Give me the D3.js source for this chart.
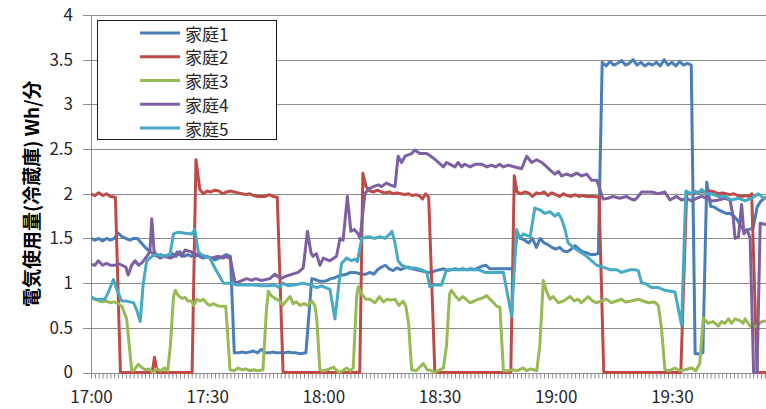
<!DOCTYPE html>
<html lang="ja">
<head>
<meta charset="utf-8">
<script src="https://cdn.jsdelivr.net/npm/d3@7"></script>
<style>
  html, body { margin: 0; padding: 0; background: #fff; }
  svg { display: block; }
  text { font-family: "Noto Sans CJK JP", "Noto Sans", sans-serif; }
</style>
</head>
<body>
<svg id="chart" width="766" height="409"></svg>
<script>
// Fridge electricity use per household, minutes after 17:00 -> Wh/min
const seriesNames = ["家庭1", "家庭2", "家庭3", "家庭4", "家庭5"];
const seriesColors = ["#4a7ebb", "#be4b48", "#98b954", "#7d60a0", "#46aac5"];

const home1 = [
  [0,1.50],[1,1.48],[2,1.50],[3,1.47],[4,1.50],[5,1.48],[6,1.50],[7,1.56],[8,1.52],[9,1.50],
  [10,1.48],[11,1.50],[12,1.50],[13,1.45],[14,1.40],[15,1.36],[16,1.33],[17,1.30],[18,1.32],
  [19,1.30],[20,1.30],[21,1.33],[22,1.30],[23,1.35],[24,1.30],[25,1.32],[26,1.30],[27,1.33],
  [28,1.30],[29,1.28],[30,1.30],[31,1.28],[32,1.26],[33,1.28],[34,1.30],[35,1.32],[36,1.30],
  [37,0.22],[38,0.22],[39,0.23],[40,0.22],[41,0.23],[42,0.24],[43,0.22],[44,0.26],[45,0.22],
  [46,0.22],[47,0.23],[48,0.22],[49,0.22],[50,0.22],[51,0.23],[52,0.22],[53,0.22],[54,0.21],
  [55.5,0.22],[57,1.05],[58,1.04],[59,1.02],[60,1.02],[61,1.03],[62,1.05],[63,1.06],[64,1.08],
  [65,1.09],[66,1.10],[67,1.12],[68,1.12],[69,1.11],[70,1.10],[71,1.10],[72,1.12],[73,1.10],
  [74,1.15],[75,1.18],[76,1.20],[77,1.16],[78,1.14],[79,1.17],[80,1.15],[81,1.17],[82,1.18],
  [83,1.16],[84,1.15],[85,1.14],[86,1.13],[87,1.12],[88,1.12],[89,1.14],[90,1.15],[91,1.16],
  [92,1.14],[93,1.15],[94,1.16],[95,1.15],[96,1.16],[97,1.15],[98,1.16],[99,1.15],[100,1.17],
  [101,1.19],[102,1.20],[103,1.16],[104,1.16],[106,1.16],[108,1.16],[109,1.16],[110,1.55],
  [111,1.50],[112,1.48],[113,1.45],[114,1.50],[115,1.40],[116,1.50],[117,1.45],[118,1.43],
  [119,1.40],[120,1.38],[121,1.40],[122,1.36],[123,1.35],[124,1.38],[125,1.42],[126,1.38],
  [127,1.35],[128,1.34],[129,1.32],[130,1.32],[131,1.33],
  [132,3.47],[133,3.43],[134,3.48],[135,3.44],[136,3.46],[137,3.49],[138,3.44],[139,3.46],
  [140,3.50],[141,3.44],[142,3.47],[143,3.43],[144,3.46],[145,3.44],[146,3.47],[147,3.43],
  [148,3.50],[149,3.44],[150,3.47],[151,3.43],[152,3.48],[153,3.44],[154,3.46],[155,3.44],
  [156,0.21],[157,0.21],[158,0.22],[159,2.13],[160,1.86],[161,1.85],[162,1.82],[163,1.80],
  [164,1.78],[165,1.78],[166,1.75],[167,1.70],[168,1.62],[169,1.58],[170,1.60],[171,1.62],
  [172,1.85],[173,1.92],[174,1.95],[175,1.97]
];

const home2 = [
  [0,2.00],[1,1.98],[2,2.01],[3,1.98],[4,2.00],[5,1.97],[6.3,1.96],[7.6,0],[15.8,0],[16.4,0.17],
  [17.1,0],[26.1,0],[27.1,2.38],[28.1,2.05],[29,2.00],[30,2.03],[31,2.02],[32,2.04],[33,2.03],
  [34,2.00],[35,2.02],[36,2.03],[37,2.02],[38,2.01],[39,2.00],[40,1.99],[41,2.00],[42,1.98],
  [43,1.97],[44,1.97],[45,1.97],[46,1.99],[47,1.97],[48.1,1.96],[49.6,0],[69.4,0],[70.2,2.23],
  [71,2.08],[72,2.03],[73,2.02],[74,2.04],[75,2.02],[76,2.01],[77,2.02],[78,2.00],[79,2.01],
  [80,2.00],[81,1.99],[82,2.00],[83,1.98],[84,1.99],[85,1.97],[85.6,1.94],[86.4,2.00],
  [87.2,1.96],[88.8,0],[108.4,0],[109.3,2.20],[110,2.02],[111,2.00],[112,2.02],[113,2.01],
  [114,1.97],[115,2.01],[116,2.00],[117,2.02],[118,1.98],[119,2.01],[120,1.99],[121,1.97],
  [122,2.00],[123,1.98],[124,1.97],[125,1.99],[126,1.97],[127,1.98],[128,1.97],[129,1.97],
  [130,1.97],[131.2,1.96],[132.4,0],[152.3,0],[153.8,2.00],[155,2.00],[157,2.02],[159,2.02],
  [160,2.03],[161,2.02],[162,2.00],[163,2.01],[164,2.00],[165,1.99],[166,2.00],[167,1.98],
  [168,1.97],[169,1.98],[170,1.97],[170.6,2.00],[172,0],[175,0]
];

const home3 = [
  [0,0.83],[1,0.82],[2,0.80],[3,0.79],[4,0.80],[5,0.78],[6,0.79],[7,0.77],[8,0.74],[9.2,0.60],
  [10.5,0.03],[11,0.02],[12.2,0.09],[13,0.06],[14,0.03],[15,0.04],[16,0.00],[17,0.04],[18,0.02],
  [19,0.05],[19.8,0.02],[20.5,0.30],[21.3,0.85],[21.8,0.92],[22.5,0.86],[23.5,0.83],[24.3,0.84],
  [25,0.80],[26,0.80],[26.5,0.75],[27.3,0.82],[28.1,0.80],[29,0.82],[30,0.77],[30.7,0.75],
  [31.5,0.77],[32.5,0.75],[33.5,0.74],[34.8,0.74],[35.9,0.03],[37,0.02],[38,0.05],[39,0.03],
  [40,0.04],[41,0.02],[42,0.03],[43,0.02],[44.4,0.03],[45.3,0.70],[45.8,0.91],[46.5,0.86],
  [47.5,0.83],[48.8,0.80],[49.5,0.75],[50,0.78],[51.4,0.85],[52.2,0.77],[53,0.79],[54,0.75],
  [55,0.77],[56,0.75],[57,0.80],[57.8,0.75],[58.3,0.60],[59.1,0.03],[60,0.02],[61,0.03],
  [62.6,0.06],[64,0.00],[65,0.02],[66,0.05],[67,0.02],[67.7,0.05],[68.6,0.85],[69,0.96],
  [70,0.87],[71,0.82],[72,0.82],[73.3,0.78],[74.5,0.85],[75.5,0.79],[76.5,0.82],[77.5,0.81],
  [78.5,0.82],[79.5,0.75],[80.6,0.80],[81.3,0.74],[82,0.55],[82.8,0.03],[84,0.02],[85.8,0.10],
  [86.8,0.03],[88,0.02],[88.8,0.00],[90,0.03],[91,0.05],[91.8,0.30],[92.6,0.88],[93.1,0.92],
  [94,0.86],[95,0.81],[96,0.85],[97.9,0.78],[99,0.80],[100,0.82],[101,0.83],[102.2,0.86],
  [103,0.82],[104,0.78],[104.8,0.74],[105.6,0.73],[106.5,0.02],[107.5,0.02],[109,0.03],
  [110,0.02],[111.6,0.05],[112.5,0.02],[113.5,0.04],[115.1,0.02],[115.9,0.30],[116.8,1.03],
  [117.7,0.90],[118.5,0.82],[119.3,0.85],[120.7,0.78],[122,0.80],[123.7,0.85],[124.8,0.80],
  [125.8,0.82],[126.6,0.78],[128.4,0.85],[129.5,0.80],[130.6,0.78],[131.6,0.80],[133.1,0.82],
  [134.4,0.78],[135.7,0.80],[137,0.82],[138,0.79],[139.5,0.80],[141.3,0.82],[142.6,0.80],
  [143.9,0.78],[145.5,0.79],[146.5,0.75],[147.3,0.50],[148.2,0.03],[149.4,0.02],[150.8,0.05],
  [152,0.02],[153.4,0.03],[155.1,0.05],[156.2,0.02],[157.2,0.10],[158.1,0.61],[159.3,0.55],
  [160.6,0.57],[162,0.52],[162.8,0.57],[163.7,0.55],[164.6,0.60],[165.4,0.55],[166.3,0.60],
  [167.6,0.58],[168.4,0.55],[168.9,0.60],[169.7,0.55],[170.6,0.50],[171.9,0.52],[173.2,0.57],
  [175,0.58]
];

const home4 = [
  [0,1.21],[1,1.20],[1.9,1.25],[3,1.20],[4,1.22],[5,1.20],[6.2,1.20],[7,1.22],[8,1.20],[9,1.18],
  [9.6,1.09],[10.5,1.20],[11.4,1.25],[12.3,1.20],[13.2,1.23],[14.4,1.30],[15.2,1.35],[15.7,1.72],
  [16.3,1.35],[17.8,1.28],[19,1.30],[20.5,1.28],[21.4,1.30],[22.3,1.35],[23.4,1.30],[24.3,1.37],
  [26,1.35],[26.8,1.30],[27.7,1.32],[29.4,1.30],[31,1.28],[32.9,1.30],[34,1.28],[35,1.30],
  [36,1.27],[37.2,1.00],[38.5,1.02],[40.2,1.05],[41.5,1.03],[42.5,1.05],[44,1.03],[46.2,1.05],
  [47.5,1.10],[49,1.05],[50.5,1.08],[52,1.10],[53.5,1.12],[54.8,1.17],[55.9,1.58],[56.8,1.34],
  [57.3,1.30],[58.2,1.33],[59.1,1.20],[60,1.28],[61.7,1.25],[63.4,1.30],[64.3,1.50],[65.1,1.48],
  [66.2,1.97],[67.1,1.58],[68,1.60],[69,1.55],[69.5,1.50],[70.7,2.00],[71.6,2.05],[72.9,2.08],
  [74.2,2.10],[75,2.08],[76.3,2.12],[77.2,2.10],[78.5,2.08],[79.3,2.42],[80.2,2.35],[81.1,2.42],
  [82.8,2.45],[83.6,2.49],[84.9,2.45],[86.7,2.45],[88.4,2.40],[89.7,2.35],[91,2.30],[91.8,2.35],
  [93.1,2.32],[94,2.30],[94.8,2.35],[95.7,2.30],[96.5,2.33],[97.9,2.30],[99.2,2.33],[100.9,2.33],
  [102.2,2.30],[103.4,2.32],[104.5,2.30],[105.5,2.33],[106.5,2.30],[107.7,2.32],[109.5,2.30],
  [111.2,2.28],[112.5,2.42],[113.8,2.35],[115.1,2.38],[116.4,2.35],[117.7,2.30],[118.9,2.25],
  [119.8,2.22],[120.7,2.25],[121.5,2.20],[122.8,2.22],[124.1,2.20],[125.4,2.23],[126.7,2.20],
  [128,2.22],[129.3,2.15],[130.6,2.15],[131.4,2.05],[132.2,1.94],[133.5,1.95],[134.8,1.97],
  [136.5,1.95],[138.3,1.97],[139.5,1.94],[140.3,1.93],[140.9,1.95],[142.2,2.02],[144.8,2.02],
  [146.5,2.00],[148.2,2.02],[149.5,1.93],[150.3,1.95],[151.2,1.97],[152.5,1.93],[153.8,1.95],
  [155.1,1.92],[156.4,1.95],[157.7,1.97],[159,1.95],[160.3,1.92],[162,1.93],[163.7,1.95],
  [165,1.93],[165.8,1.75],[166.3,1.50],[167.2,1.52],[168,1.88],[168.6,1.55],[169.4,1.60],
  [170.2,1.50],[171.1,0],[172,0],[172.8,1.67],[175,1.65]
];

const home5 = [
  [0,0.85],[1,0.82],[2,0.82],[3.6,0.82],[4.5,0.90],[5.8,1.04],[6.5,0.95],[7.9,0.80],[9,0.80],
  [10,0.79],[11,0.78],[11.8,0.70],[12.7,0.57],[13.5,1.00],[14.4,1.25],[15.7,1.30],[17,1.32],
  [18.5,1.30],[20.4,1.32],[21.3,1.55],[22.5,1.57],[24,1.56],[26,1.55],[26.8,1.60],[27.7,1.35],
  [28.5,1.32],[29.5,1.30],[30.7,1.28],[31.6,1.20],[32.9,1.10],[34.2,1.00],[36,1.00],[37.6,0.98],
  [40,0.98],[42,0.98],[44,0.97],[46.2,0.97],[47.5,0.98],[48.5,0.95],[49.5,1.00],[51,0.97],
  [52.5,0.98],[54.8,1.00],[56.5,0.98],[58.3,0.95],[59.5,0.97],[61.7,0.93],[63,0.60],[63.9,0.95],
  [64.7,1.22],[66,1.28],[67.2,1.25],[68.2,1.27],[68.8,1.24],[69.9,1.50],[71.6,1.52],[73.3,1.50],
  [74.5,1.52],[75.9,1.50],[77.2,1.55],[77.7,1.58],[78.5,1.45],[79.3,1.25],[80.2,1.20],
  [81.9,1.17],[83.6,1.17],[85.4,1.15],[86.7,1.12],[87.5,0.96],[88.8,0.98],[90.5,0.98],
  [91.8,1.15],[93.1,1.15],[94.8,1.15],[97.4,1.15],[100,1.15],[101.7,1.12],[103,1.12],[104,1.12],
  [106.5,1.12],[108.6,0.63],[109.9,1.60],[110.8,1.50],[111.6,1.55],[113.4,1.52],[114.6,1.84],
  [115.9,1.82],[117.2,1.78],[118.5,1.80],[119.8,1.75],[120.7,1.78],[121.5,1.72],[122.4,1.60],
  [123.2,1.45],[124.5,1.40],[126.2,1.35],[128,1.30],[129.3,1.25],[130.6,1.20],[132.2,1.18],
  [134,1.15],[135.7,1.15],[137,1.12],[139.2,1.15],[140.5,1.15],[141.3,1.14],[142.2,1.00],
  [143,1.00],[144,0.97],[144.8,0.95],[146.5,0.95],[148.2,0.92],[150.8,0.90],[152.5,0.53],
  [153.6,2.03],[155.1,2.00],[156,2.03],[156.9,2.00],[157.7,2.05],[159,2.00],[160.3,2.00],
  [162,1.97],[163.7,1.97],[165.4,1.93],[167.2,1.95],[168.9,1.92],[170.6,1.95],[172.3,2.00],
  [173.6,1.95],[175,1.97]
];

const allSeries = [home1, home2, home3, home4, home5];

const timeTickMinutes = [0, 30, 60, 90, 120, 150];
const timeTickLabels = ["17:00", "17:30", "18:00", "18:30", "19:00", "19:30"];
const valueTicks = [0, 0.5, 1, 1.5, 2, 2.5, 3, 3.5, 4];
const yTitle = "電気使用量(冷蔵庫) Wh/分";

const svg = d3.select("#chart");
const plot = { left: 91, right: 766, top: 15, bottom: 372.5 };

const x = d3.scaleLinear().domain([0, 174.3]).range([plot.left, plot.right]);
const y = d3.scaleLinear().domain([0, 4]).range([plot.bottom, plot.top]);

// horizontal gridlines (extend slightly left of the axis as tick marks)
svg.append("g")
  .selectAll("line")
  .data(valueTicks)
  .join("line")
  .attr("x1", plot.left - 8)
  .attr("x2", plot.right)
  .attr("y1", d => Math.round(y(d)) + 0.5)
  .attr("y2", d => Math.round(y(d)) + 0.5)
  .attr("stroke", "#8c8c8c")
  .attr("stroke-width", 1);

// vertical value axis line
svg.append("line")
  .attr("x1", plot.left + 0.5).attr("x2", plot.left + 0.5)
  .attr("y1", y(4)).attr("y2", plot.bottom + 0.5)
  .attr("stroke", "#8c8c8c");

// per-minute tick marks on the time axis
const minuteTicks = d3.range(0, 175);
const xMinor = svg.append("g")
  .attr("transform", `translate(0,${Math.round(plot.bottom) + 0.5})`)
  .call(d3.axisBottom(x).tickValues(minuteTicks).tickSize(5).tickFormat(""));
xMinor.select(".domain").remove();
xMinor.selectAll(".tick line").attr("stroke", "#8c8c8c");

// time labels
const xLabels = svg.append("g")
  .attr("transform", `translate(0,${plot.bottom})`)
  .call(d3.axisBottom(x).tickValues(timeTickMinutes).tickSize(0).tickPadding(18)
    .tickFormat((d, i) => timeTickLabels[i]));
xLabels.select(".domain").remove();
xLabels.selectAll("text")
  .attr("font-size", 17)
  .attr("fill", "#262626")
  .style("font-family", '"Noto Sans CJK JP", sans-serif');

// value labels
const yLabels = svg.append("g")
  .attr("transform", `translate(${plot.left},0)`)
  .call(d3.axisLeft(y).tickValues(valueTicks).tickSize(0).tickPadding(18)
    .tickFormat(d3.format("")));
yLabels.select(".domain").remove();
yLabels.selectAll("text")
  .attr("font-size", 17)
  .attr("fill", "#262626")
  .style("font-family", '"Noto Sans CJK JP", sans-serif');

// axis title
svg.append("text")
  .attr("transform", `translate(30,${(plot.top + plot.bottom) / 2}) rotate(-90)`)
  .attr("text-anchor", "middle")
  .attr("dominant-baseline", "central")
  .attr("font-size", 19)
  .attr("font-weight", "bold")
  .attr("fill", "#000")
  .text(yTitle);

// series lines
svg.append("clipPath").attr("id", "plot-clip")
  .append("rect")
  .attr("x", plot.left).attr("y", 0)
  .attr("width", plot.right - plot.left).attr("height", plot.bottom + 5);

const line = d3.line().x(d => x(d[0])).y(d => y(d[1]));
svg.append("g")
  .attr("clip-path", "url(#plot-clip)")
  .selectAll("path")
  .data(allSeries)
  .join("path")
  .attr("d", line)
  .attr("fill", "none")
  .attr("stroke", (d, i) => seriesColors[i])
  .attr("stroke-width", 3)
  .attr("stroke-linejoin", "round")
  .attr("stroke-linecap", "round");

// legend
const legend = svg.append("g");
legend.append("rect")
  .attr("x", 97.5).attr("y", 20.5)
  .attr("width", 179).attr("height", 119)
  .attr("fill", "#fff")
  .attr("stroke", "#1a1a1a")
  .attr("stroke-width", 1);

const rowY = d3.scalePoint().domain(seriesNames).range([33, 128]);
const rows = legend.selectAll("g.row")
  .data(seriesNames)
  .join("g")
  .attr("class", "row")
  .attr("transform", d => `translate(0,${rowY(d)})`);
rows.append("line")
  .attr("x1", 140).attr("x2", 180)
  .attr("stroke", (d, i) => seriesColors[i])
  .attr("stroke-width", 3);
rows.append("text")
  .attr("x", 185)
  .attr("dominant-baseline", "central")
  .attr("font-size", 17)
  .attr("fill", "#262626")
  .text(d => d);
</script>
</body>
</html>
